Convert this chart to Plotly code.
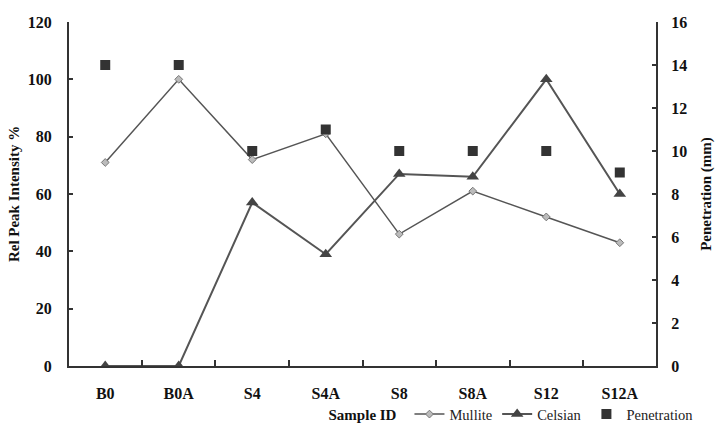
import plotly.graph_objects as go

samples = ["B0", "B0A", "S4", "S4A", "S8", "S8A", "S12", "S12A"]
mullite = [71, 100, 72, 81, 46, 61, 52, 43]
celsian = [0, 0, 57, 39, 67, 66, 100, 60]
penetration = [14, 14, 10, 11, 10, 10, 10, 9]

FONT = "Liberation Serif"

fig = go.Figure()
fig.add_trace(go.Scatter(
    x=samples, y=mullite, name="Mullite", mode="lines+markers",
    line=dict(color="#555555", width=1.5),
    marker=dict(symbol="diamond", size=6, color="#bbbbbb", line=dict(color="#777777", width=1)),
))
fig.add_trace(go.Scatter(
    x=samples, y=celsian, name="Celsian", mode="lines+markers",
    line=dict(color="#555555", width=2),
    marker=dict(symbol="triangle-up", size=11, color="#444444"),
))
fig.add_trace(go.Scatter(
    x=samples, y=penetration, name="Penetration", mode="markers",
    marker=dict(symbol="square", size=10, color="#333333"),
    yaxis="y2",
))

fig.update_layout(
    width=715, height=435,
    margin=dict(l=69, r=59, t=22, b=69, autoexpand=False),
    paper_bgcolor="white", plot_bgcolor="white",
    font=dict(family=FONT, color="#111111", size=15),
    showlegend=True,
    legend=dict(orientation="h", x=0.58, y=-0.14, xanchor="left", yanchor="middle",
                font=dict(family=FONT, size=14.5, color="#222222"),
                bgcolor="rgba(0,0,0,0)", itemwidth=30, tracegroupgap=0),
    xaxis=dict(
        title=dict(text="<b>Sample ID</b>", font=dict(family=FONT, size=15), standoff=8),
        showline=True, linecolor="#333333", linewidth=2, automargin=False,
        ticks="inside", tickson="boundaries", ticklen=6, tickcolor="#333333", tickwidth=2,
        tickfont=dict(family=FONT, size=16, weight="bold"), ticklabelstandoff=12,
        showgrid=False, zeroline=False, mirror=False,
    ),
    yaxis=dict(
        title=dict(text="<b>Rel Peak Intensity %</b>", font=dict(family=FONT, size=15), standoff=5),
        range=[0, 120], dtick=20, automargin=False,
        showline=True, linecolor="#333333", linewidth=2,
        ticks="inside", ticklen=4, tickcolor="#333333", tickwidth=1.5,
        tickfont=dict(family=FONT, size=16, weight="bold"), ticklabelstandoff=12,
        showgrid=False, zeroline=False,
    ),
    yaxis2=dict(
        title=dict(text="<b>Penetration (mm)</b>", font=dict(family=FONT, size=15), standoff=18),
        range=[0, 16], dtick=2, overlaying="y", side="right", automargin=False,
        showline=True, linecolor="#333333", linewidth=2,
        ticks="inside", ticklen=4, tickcolor="#333333", tickwidth=1.5,
        tickfont=dict(family=FONT, size=16, weight="bold"), ticklabelstandoff=10,
        showgrid=False, zeroline=False,
    ),
)

fig.write_html("out.html")
